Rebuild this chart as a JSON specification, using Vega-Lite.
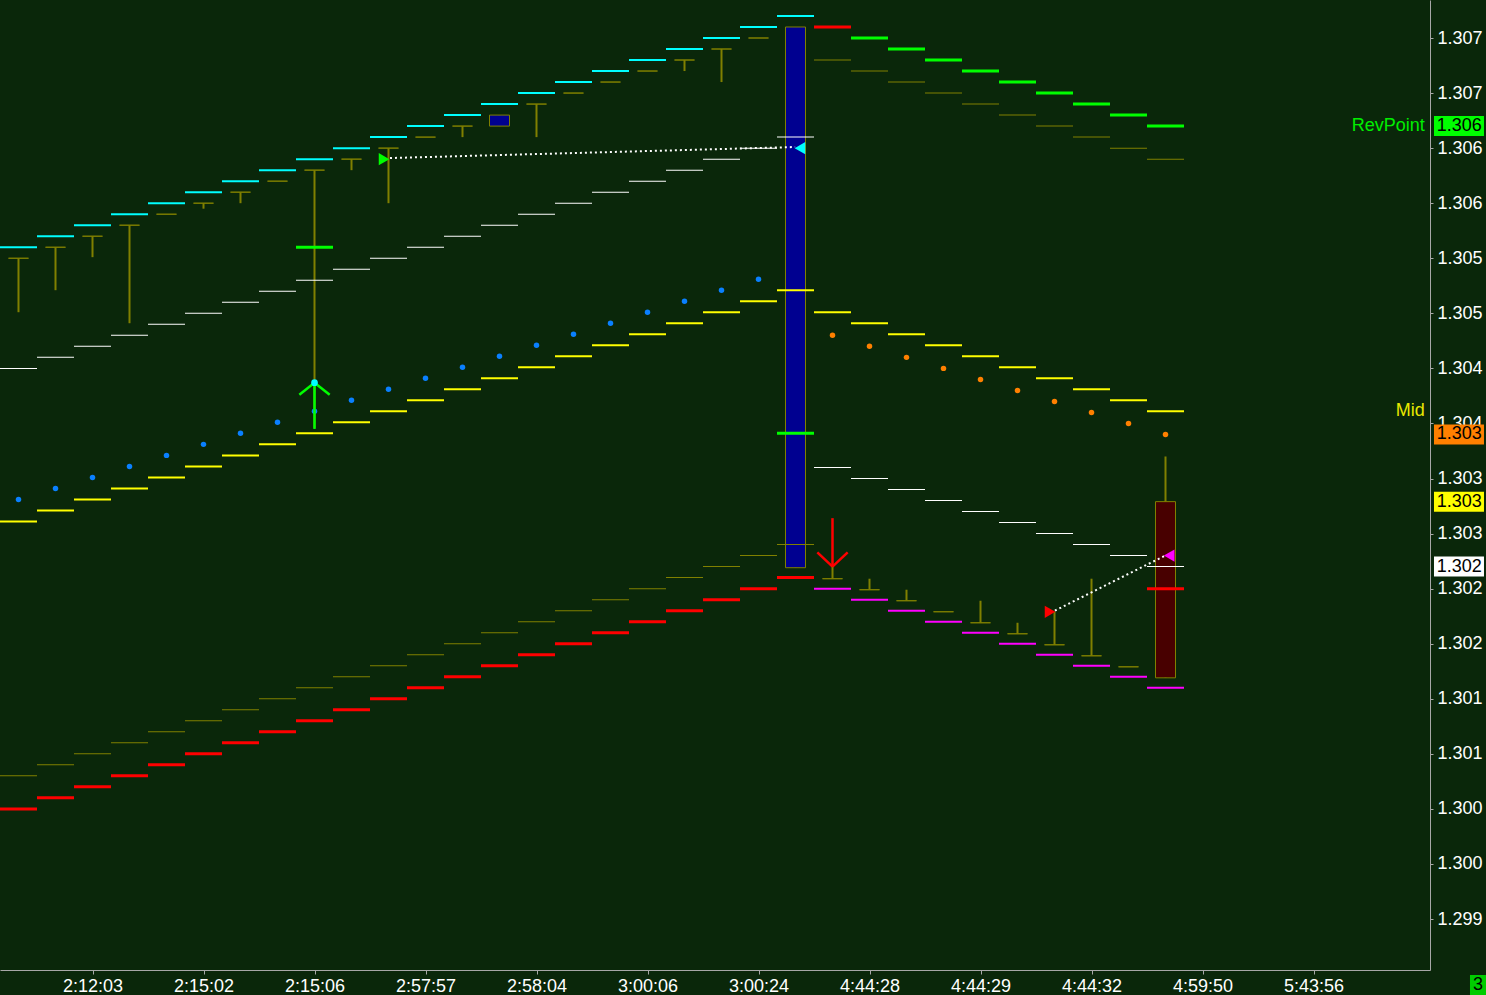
{
"$schema": "https://vega.github.io/schema/vega-lite/v6.json",
"width": 1430, "height": 970,
"autosize": {"type": "none"},
"padding": {"left": 0, "top": 0, "right": 56, "bottom": 25},
"background": "#0a270a",
"config": {"view": {"stroke": null}, "font": "Liberation Sans", "scale": {"continuousPadding": 0}},
"resolve": {"scale": {"color": "independent", "shape": "independent"}},
"datasets": {
"candles": [
{"i":0,"o":1.3050,"h":1.3050,"l":1.30451,"c":1.3050},
{"i":1,"o":1.3051,"h":1.3051,"l":1.30471,"c":1.3051},
{"i":2,"o":1.3052,"h":1.3052,"l":1.30501,"c":1.3052},
{"i":3,"o":1.3053,"h":1.3053,"l":1.30441,"c":1.3053},
{"i":4,"o":1.3054,"h":1.3054,"l":1.3054,"c":1.3054},
{"i":5,"o":1.3055,"h":1.3055,"l":1.30545,"c":1.3055},
{"i":6,"o":1.3056,"h":1.3056,"l":1.30550,"c":1.3056},
{"i":7,"o":1.3057,"h":1.3057,"l":1.3057,"c":1.3057},
{"i":8,"o":1.3058,"h":1.3058,"l":1.30346,"c":1.3058},
{"i":9,"o":1.3059,"h":1.3059,"l":1.30580,"c":1.3059},
{"i":10,"o":1.3060,"h":1.3060,"l":1.30550,"c":1.3060},
{"i":11,"o":1.3061,"h":1.3061,"l":1.3061,"c":1.3061},
{"i":12,"o":1.3062,"h":1.3062,"l":1.30610,"c":1.3062},
{"i":13,"o":1.3062,"h":1.3063,"l":1.3062,"c":1.3063},
{"i":14,"o":1.3064,"h":1.3064,"l":1.30610,"c":1.3064},
{"i":15,"o":1.3065,"h":1.3065,"l":1.3065,"c":1.3065},
{"i":16,"o":1.3066,"h":1.3066,"l":1.3066,"c":1.3066},
{"i":17,"o":1.3067,"h":1.3067,"l":1.3067,"c":1.3067},
{"i":18,"o":1.3068,"h":1.3068,"l":1.30670,"c":1.3068},
{"i":19,"o":1.3069,"h":1.3069,"l":1.30660,"c":1.3069},
{"i":20,"o":1.3070,"h":1.3070,"l":1.3070,"c":1.3070},
{"i":21,"o":1.30219,"h":1.3071,"l":1.30219,"c":1.3071},
{"i":22,"o":1.30209,"h":1.30220,"l":1.30209,"c":1.30209},
{"i":23,"o":1.30199,"h":1.30209,"l":1.30199,"c":1.30199},
{"i":24,"o":1.30189,"h":1.30199,"l":1.30189,"c":1.30189},
{"i":25,"o":1.30179,"h":1.30179,"l":1.30179,"c":1.30179},
{"i":26,"o":1.30169,"h":1.30189,"l":1.30169,"c":1.30169},
{"i":27,"o":1.30159,"h":1.30169,"l":1.30159,"c":1.30159},
{"i":28,"o":1.30149,"h":1.30179,"l":1.30149,"c":1.30149},
{"i":29,"o":1.30139,"h":1.30209,"l":1.30139,"c":1.30139},
{"i":30,"o":1.30129,"h":1.30129,"l":1.30129,"c":1.30129},
{"i":31,"o":1.30279,"h":1.30320,"l":1.30119,"c":1.30119}
],
"bands": [
{"i":0,"s":"upCyan","v":1.3051},{"i":1,"s":"upCyan","v":1.3052},{"i":2,"s":"upCyan","v":1.3053},{"i":3,"s":"upCyan","v":1.3054},{"i":4,"s":"upCyan","v":1.3055},{"i":5,"s":"upCyan","v":1.3056},{"i":6,"s":"upCyan","v":1.3057},{"i":7,"s":"upCyan","v":1.3058},{"i":8,"s":"upCyan","v":1.3059},{"i":9,"s":"upCyan","v":1.3060},{"i":10,"s":"upCyan","v":1.3061},{"i":11,"s":"upCyan","v":1.3062},{"i":12,"s":"upCyan","v":1.3063},{"i":13,"s":"upCyan","v":1.3064},{"i":14,"s":"upCyan","v":1.3065},{"i":15,"s":"upCyan","v":1.3066},{"i":16,"s":"upCyan","v":1.3067},{"i":17,"s":"upCyan","v":1.3068},{"i":18,"s":"upCyan","v":1.3069},{"i":19,"s":"upCyan","v":1.3070},{"i":20,"s":"upCyan","v":1.3071},{"i":21,"s":"upCyan","v":1.3072},
{"i":22,"s":"flipRed","v":1.3071},
{"i":23,"s":"dnGreen","v":1.3070},{"i":24,"s":"dnGreen","v":1.3069},{"i":25,"s":"dnGreen","v":1.3068},{"i":26,"s":"dnGreen","v":1.3067},{"i":27,"s":"dnGreen","v":1.3066},{"i":28,"s":"dnGreen","v":1.3065},{"i":29,"s":"dnGreen","v":1.3064},{"i":30,"s":"dnGreen","v":1.3063},{"i":31,"s":"dnGreen","v":1.3062},
{"i":0,"s":"white","v":1.3040},{"i":1,"s":"white","v":1.3041},{"i":2,"s":"white","v":1.3042},{"i":3,"s":"white","v":1.3043},{"i":4,"s":"white","v":1.3044},{"i":5,"s":"white","v":1.3045},{"i":6,"s":"white","v":1.3046},{"i":7,"s":"white","v":1.3047},{"i":8,"s":"white","v":1.3048},{"i":9,"s":"white","v":1.3049},{"i":10,"s":"white","v":1.3050},{"i":11,"s":"white","v":1.3051},{"i":12,"s":"white","v":1.3052},{"i":13,"s":"white","v":1.3053},{"i":14,"s":"white","v":1.3054},{"i":15,"s":"white","v":1.3055},{"i":16,"s":"white","v":1.3056},{"i":17,"s":"white","v":1.3057},{"i":18,"s":"white","v":1.3058},{"i":19,"s":"white","v":1.3059},{"i":20,"s":"white","v":1.3060},{"i":21,"s":"white","v":1.3061},
{"i":22,"s":"white","v":1.3031},{"i":23,"s":"white","v":1.3030},{"i":24,"s":"white","v":1.3029},{"i":25,"s":"white","v":1.3028},{"i":26,"s":"white","v":1.3027},{"i":27,"s":"white","v":1.3026},{"i":28,"s":"white","v":1.3025},{"i":29,"s":"white","v":1.3024},{"i":30,"s":"white","v":1.3023},{"i":31,"s":"white","v":1.3022},
{"i":0,"s":"yellow","v":1.30261},{"i":1,"s":"yellow","v":1.30271},{"i":2,"s":"yellow","v":1.30281},{"i":3,"s":"yellow","v":1.30291},{"i":4,"s":"yellow","v":1.30301},{"i":5,"s":"yellow","v":1.30311},{"i":6,"s":"yellow","v":1.30321},{"i":7,"s":"yellow","v":1.30331},{"i":8,"s":"yellow","v":1.30341},{"i":9,"s":"yellow","v":1.30351},{"i":10,"s":"yellow","v":1.30361},{"i":11,"s":"yellow","v":1.30371},{"i":12,"s":"yellow","v":1.30381},{"i":13,"s":"yellow","v":1.30391},{"i":14,"s":"yellow","v":1.30401},{"i":15,"s":"yellow","v":1.30411},{"i":16,"s":"yellow","v":1.30421},{"i":17,"s":"yellow","v":1.30431},{"i":18,"s":"yellow","v":1.30441},{"i":19,"s":"yellow","v":1.30451},{"i":20,"s":"yellow","v":1.30461},{"i":21,"s":"yellow","v":1.30471},
{"i":22,"s":"yellow","v":1.30451},{"i":23,"s":"yellow","v":1.30441},{"i":24,"s":"yellow","v":1.30431},{"i":25,"s":"yellow","v":1.30421},{"i":26,"s":"yellow","v":1.30411},{"i":27,"s":"yellow","v":1.30401},{"i":28,"s":"yellow","v":1.30391},{"i":29,"s":"yellow","v":1.30381},{"i":30,"s":"yellow","v":1.30371},{"i":31,"s":"yellow","v":1.30361},
{"i":0,"s":"lowRed","v":1.3000},{"i":1,"s":"lowRed","v":1.3001},{"i":2,"s":"lowRed","v":1.3002},{"i":3,"s":"lowRed","v":1.3003},{"i":4,"s":"lowRed","v":1.3004},{"i":5,"s":"lowRed","v":1.3005},{"i":6,"s":"lowRed","v":1.3006},{"i":7,"s":"lowRed","v":1.3007},{"i":8,"s":"lowRed","v":1.3008},{"i":9,"s":"lowRed","v":1.3009},{"i":10,"s":"lowRed","v":1.3010},{"i":11,"s":"lowRed","v":1.3011},{"i":12,"s":"lowRed","v":1.3012},{"i":13,"s":"lowRed","v":1.3013},{"i":14,"s":"lowRed","v":1.3014},{"i":15,"s":"lowRed","v":1.3015},{"i":16,"s":"lowRed","v":1.3016},{"i":17,"s":"lowRed","v":1.3017},{"i":18,"s":"lowRed","v":1.3018},{"i":19,"s":"lowRed","v":1.3019},{"i":20,"s":"lowRed","v":1.3020},{"i":21,"s":"lowRed","v":1.3021},
{"i":22,"s":"lowMagenta","v":1.3020},{"i":23,"s":"lowMagenta","v":1.3019},{"i":24,"s":"lowMagenta","v":1.3018},{"i":25,"s":"lowMagenta","v":1.3017},{"i":26,"s":"lowMagenta","v":1.3016},{"i":27,"s":"lowMagenta","v":1.3015},{"i":28,"s":"lowMagenta","v":1.3014},{"i":29,"s":"lowMagenta","v":1.3013},{"i":30,"s":"lowMagenta","v":1.3012},{"i":31,"s":"lowMagenta","v":1.3011},
{"i":0,"s":"olive","v":1.3003},{"i":1,"s":"olive","v":1.3004},{"i":2,"s":"olive","v":1.3005},{"i":3,"s":"olive","v":1.3006},{"i":4,"s":"olive","v":1.3007},{"i":5,"s":"olive","v":1.3008},{"i":6,"s":"olive","v":1.3009},{"i":7,"s":"olive","v":1.3010},{"i":8,"s":"olive","v":1.3011},{"i":9,"s":"olive","v":1.3012},{"i":10,"s":"olive","v":1.3013},{"i":11,"s":"olive","v":1.3014},{"i":12,"s":"olive","v":1.3015},{"i":13,"s":"olive","v":1.3016},{"i":14,"s":"olive","v":1.3017},{"i":15,"s":"olive","v":1.3018},{"i":16,"s":"olive","v":1.3019},{"i":17,"s":"olive","v":1.3020},{"i":18,"s":"olive","v":1.3021},{"i":19,"s":"olive","v":1.3022},{"i":20,"s":"olive","v":1.3023},{"i":21,"s":"olive","v":1.3024},
{"i":22,"s":"olive","v":1.3068},{"i":23,"s":"olive","v":1.3067},{"i":24,"s":"olive","v":1.3066},{"i":25,"s":"olive","v":1.3065},{"i":26,"s":"olive","v":1.3064},{"i":27,"s":"olive","v":1.3063},{"i":28,"s":"olive","v":1.3062},{"i":29,"s":"olive","v":1.3061},{"i":30,"s":"olive","v":1.3060},{"i":31,"s":"olive","v":1.3059},
{"i":8,"s":"stopGreen","v":1.3051},{"i":21,"s":"stopGreen","v":1.30341},{"i":31,"s":"stopRed","v":1.3020}
],
"dots": [
{"i":0,"s":"blue","v":1.30281},{"i":1,"s":"blue","v":1.30291},{"i":2,"s":"blue","v":1.30301},{"i":3,"s":"blue","v":1.30311},{"i":4,"s":"blue","v":1.30321},{"i":5,"s":"blue","v":1.30331},{"i":6,"s":"blue","v":1.30341},{"i":7,"s":"blue","v":1.30351},{"i":8,"s":"blue","v":1.30361},{"i":9,"s":"blue","v":1.30371},{"i":10,"s":"blue","v":1.30381},{"i":11,"s":"blue","v":1.30391},{"i":12,"s":"blue","v":1.30401},{"i":13,"s":"blue","v":1.30411},{"i":14,"s":"blue","v":1.30421},{"i":15,"s":"blue","v":1.30431},{"i":16,"s":"blue","v":1.30441},{"i":17,"s":"blue","v":1.30451},{"i":18,"s":"blue","v":1.30461},{"i":19,"s":"blue","v":1.30471},{"i":20,"s":"blue","v":1.30481},
{"i":22,"s":"orange","v":1.30430},{"i":23,"s":"orange","v":1.30420},{"i":24,"s":"orange","v":1.30410},{"i":25,"s":"orange","v":1.30400},{"i":26,"s":"orange","v":1.30390},{"i":27,"s":"orange","v":1.30380},{"i":28,"s":"orange","v":1.30370},{"i":29,"s":"orange","v":1.30360},{"i":30,"s":"orange","v":1.30350},{"i":31,"s":"orange","v":1.30340}
],
"arrows": [
{"s":"up","x":8,"y":1.30345,"x2":8,"y2":1.30387},
{"s":"up","x":7.59,"y":1.30376,"x2":8,"y2":1.30387},
{"s":"up","x":8.41,"y":1.30376,"x2":8,"y2":1.30387},
{"s":"dn","x":22,"y":1.30264,"x2":22,"y2":1.30220},
{"s":"dn","x":21.59,"y":1.30233,"x2":22,"y2":1.30220},
{"s":"dn","x":22.41,"y":1.30233,"x2":22,"y2":1.30220}
],
"links": [
{"x":10.04,"y":1.30591,"x2":20.99,"y2":1.30601},
{"x":28.01,"y":1.30180,"x2":30.99,"y2":1.30230}
],
"signals": [
{"i":9.88,"v":1.3059,"s":"revUp"},
{"i":21.12,"v":1.3060,"s":"revUpEnd"},
{"i":27.88,"v":1.30179,"s":"revDn"},
{"i":31.1,"v":1.30230,"s":"revDnEnd"}
],
"tip": [{"i":8,"v":1.30387}],
"labels": [{"t":"RevPoint","v":1.3062,"s":"rev"},{"t":"Mid","v":1.30361,"s":"mid"}],
"tags": [{"t":"1.306","v":1.3062,"s":"rev"},{"t":"1.303","v":1.3034,"s":"sig"},{"t":"1.303","v":1.30279,"s":"last"},{"t":"1.302","v":1.3022,"s":"white"}],
"timetag": [{"t":"3","v":1.2984007}]
},
"layer": [
{"data":{"name":"candles"},
 "mark":{"type":"rule","color":"#808000","strokeWidth":2},
 "encoding":{
  "x":{"field":"i","type":"quantitative","title":null,"scale":{"domain":[-0.5,38.1486],"nice":false,"zero":false,"padding":0},
   "axis":{"orient":"bottom","title":null,"grid":false,"values":[-1,2,5,8,11,14,17,20,23,26,29,32,35],
    "labelExpr":"['2:09:03','2:12:03','2:15:02','2:15:06','2:57:57','2:58:04','3:00:06','3:00:24','4:44:28','4:44:29','4:44:32','4:59:50','5:43:56'][round((datum.value+1)/3)]",
    "domainColor":"#a8a8a8","tickColor":"#a8a8a8","tickSize":4,"labelColor":"#ffffff","labelFontSize":18,"labelFont":"Liberation Sans","labelPadding":3,"labelFlush":false,"labelOverlap":false,"labelBound":false}},
  "y":{"field":"h","type":"quantitative","title":null,"scale":{"domain":[1.2985369,1.3073451],"nice":false,"zero":false,"padding":0},
   "axis":{"orient":"right","title":null,"grid":false,"values":[1.299,1.2995,1.3,1.3005,1.301,1.3015,1.302,1.3025,1.303,1.3035,1.304,1.3045,1.305,1.3055,1.306,1.3065,1.307],
    "labelExpr":"format(datum.value + 0.00001, '.3f')",
    "domainColor":"#a8a8a8","tickColor":"#a8a8a8","tickSize":3,"labelColor":"#ffffff","labelFontSize":18,"labelFont":"Liberation Sans","labelPadding":4,"labelFlush":false,"labelOverlap":false,"labelBound":false,"labelAlign":"left","labelBaseline":"middle"}},
  "y2":{"field":"l"}
 }},
{"data":{"name":"candles"},
 "mark":{"type":"bar","width":20,"stroke":"#808000","strokeWidth":1},
 "encoding":{
  "x":{"field":"i","type":"quantitative","title":null},
  "y":{"field":"o","type":"quantitative","title":null},
  "y2":{"field":"c"},
  "fill":{"condition":[{"test":"datum.c > datum.o","value":"#000090"},{"test":"datum.c < datum.o","value":"#480000"}],"value":"transparent"}
 }},
{"data":{"name":"bands"},
 "transform":[{"filter":{"field":"s","oneOf":["white","olive"]}}],
 "mark":{"type":"tick","orient":"horizontal","size":37,"thickness":1,"opacity":1},
 "encoding":{
  "x":{"field":"i","type":"quantitative","title":null},
  "y":{"field":"v","type":"quantitative","title":null},
  "color":{"field":"s","type":"nominal","legend":null,"scale":{"domain":["white","olive"],"range":["#ffffff","#808000"]}}
 }},
{"data":{"name":"bands"},
 "transform":[{"filter":{"field":"s","oneOf":["upCyan","lowMagenta","yellow"]}}],
 "mark":{"type":"tick","orient":"horizontal","size":37,"thickness":2,"opacity":1},
 "encoding":{
  "x":{"field":"i","type":"quantitative","title":null},
  "y":{"field":"v","type":"quantitative","title":null},
  "color":{"field":"s","type":"nominal","legend":null,"scale":{"domain":["upCyan","lowMagenta","yellow"],"range":["#00ffff","#ff00ff","#ffff00"]}}
 }},
{"data":{"name":"bands"},
 "transform":[{"filter":{"field":"s","oneOf":["dnGreen","flipRed","stopGreen","stopRed","lowRed"]}}],
 "mark":{"type":"tick","orient":"horizontal","size":37,"thickness":3,"opacity":1},
 "encoding":{
  "x":{"field":"i","type":"quantitative","title":null},
  "y":{"field":"v","type":"quantitative","title":null},
  "color":{"field":"s","type":"nominal","legend":null,"scale":{"domain":["dnGreen","flipRed","stopGreen","stopRed","lowRed"],"range":["#00ff00","#ff0000","#00ff00","#ff0000","#ff0000"]}}
 }},
{"data":{"name":"dots"},
 "mark":{"type":"point","filled":true,"size":30,"opacity":1,"shape":"circle"},
 "encoding":{
  "x":{"field":"i","type":"quantitative","title":null},
  "y":{"field":"v","type":"quantitative","title":null},
  "color":{"field":"s","type":"nominal","legend":null,"scale":{"domain":["blue","orange"],"range":["#0a80ff","#ff8000"]}}
 }},
{"data":{"name":"arrows"},
 "mark":{"type":"rule","strokeWidth":2.5},
 "encoding":{
  "x":{"field":"x","type":"quantitative","title":null},
  "y":{"field":"y","type":"quantitative","title":null},
  "x2":{"field":"x2"},
  "y2":{"field":"y2"},
  "color":{"field":"s","type":"nominal","legend":null,"scale":{"domain":["up","dn"],"range":["#00ff00","#ff0000"]}}
 }},
{"data":{"name":"tip"},
 "mark":{"type":"point","filled":true,"size":45,"opacity":1,"color":"#00ffff"},
 "encoding":{
  "x":{"field":"i","type":"quantitative","title":null},
  "y":{"field":"v","type":"quantitative","title":null}
 }},
{"data":{"name":"links"},
 "mark":{"type":"rule","color":"#ffffff","strokeWidth":2,"strokeDash":[2,3]},
 "encoding":{
  "x":{"field":"x","type":"quantitative","title":null},
  "y":{"field":"y","type":"quantitative","title":null},
  "x2":{"field":"x2"},
  "y2":{"field":"y2"}
 }},
{"data":{"name":"signals"},
 "mark":{"type":"point","filled":true,"size":150,"opacity":1},
 "encoding":{
  "x":{"field":"i","type":"quantitative","title":null},
  "y":{"field":"v","type":"quantitative","title":null},
  "shape":{"field":"s","type":"nominal","legend":null,"scale":{"domain":["revUp","revUpEnd","revDn","revDnEnd"],"range":["triangle-right","triangle-left","triangle-right","triangle-left"]}},
  "color":{"field":"s","type":"nominal","legend":null,"scale":{"domain":["revUp","revUpEnd","revDn","revDnEnd"],"range":["#00ff00","#00ffff","#ff0000","#ff00ff"]}}
 }},
{"data":{"name":"labels"},
 "mark":{"type":"text","align":"right","baseline":"middle","fontSize":18,"font":"Liberation Sans"},
 "encoding":{
  "x":{"datum":38.01,"type":"quantitative","title":null},
  "y":{"field":"v","type":"quantitative","title":null},
  "text":{"field":"t"},
  "color":{"field":"s","type":"nominal","legend":null,"scale":{"domain":["rev","mid"],"range":["#00ee00","#e8e800"]}}
 }},
{"data":{"name":"tags"},
 "mark":{"type":"tick","orient":"horizontal","size":50,"thickness":20,"opacity":1},
 "encoding":{
  "x":{"datum":38.932,"type":"quantitative","title":null},
  "y":{"field":"v","type":"quantitative","title":null},
  "color":{"field":"s","type":"nominal","legend":null,"scale":{"domain":["rev","sig","last","white"],"range":["#00ff00","#ff8000","#ffff00","#ffffff"]}}
 }},
{"data":{"name":"tags"},
 "mark":{"type":"text","align":"left","baseline":"middle","fontSize":18,"font":"Liberation Sans","color":"#000000"},
 "encoding":{
  "x":{"datum":38.33,"type":"quantitative","title":null},
  "y":{"field":"v","type":"quantitative","title":null},
  "text":{"field":"t"}
 }},
{"data":{"name":"timetag"},
 "mark":{"type":"tick","orient":"horizontal","size":60,"thickness":20,"opacity":1,"color":"#00cc00"},
 "encoding":{
  "x":{"datum":40.04,"type":"quantitative","title":null},
  "y":{"field":"v","type":"quantitative","title":null}
 }},
{"data":{"name":"timetag"},
 "mark":{"type":"text","align":"left","baseline":"middle","fontSize":18,"font":"Liberation Sans","color":"#000000"},
 "encoding":{
  "x":{"datum":39.31,"type":"quantitative","title":null},
  "y":{"field":"v","type":"quantitative","title":null},
  "text":{"field":"t"}
 }}
]
}
